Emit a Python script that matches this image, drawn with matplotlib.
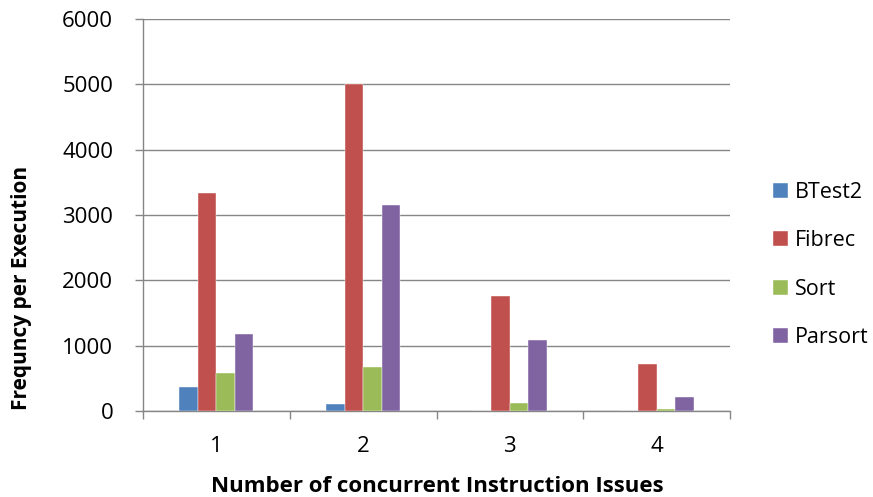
import numpy as np
import matplotlib.pyplot as plt

# data
categories = ['1', '2', '3', '4']
series = ['BTest2', 'Fibrec', 'Sort', 'Parsort']
btest2 = [375, 105, 0, 0]
fibrec = [3330, 5000, 1760, 720]
sort_ = [580, 670, 120, 30]
parsort = [1180, 3160, 1090, 220]
colors = ['#4F81BD', '#C0504D', '#9BBB59', '#8064A2']

plt.rcParams['font.family'] = ['Open Sans', 'DejaVu Sans']

fig = plt.figure(figsize=(8.73, 4.97), dpi=100)
ax = fig.add_axes([143/873, 1 - 411/497, 587/873, 392/497])

x = np.arange(1, len(categories) + 1)
w = 0.126
vals = [btest2, fibrec, sort_, parsort]
for i in range(4):
    ax.bar(x + (i - 1.5) * w, vals[i], w, color=colors[i], label=series[i],
           edgecolor='white', linewidth=0.3, zorder=3)

ax.set_xlim(0.5, 4.5)
ax.set_ylim(0, 6000)
ax.set_yticks(np.arange(0, 6001, 1000))
ax.yaxis.grid(True, color='#868686', linewidth=1.0, zorder=0)

ax.set_xticks(x)
ax.set_xticklabels(categories)
ax.set_xticks(np.arange(0.5, 4.6, 1), minor=True)
ax.tick_params(axis='x', which='major', length=0, pad=18, labelsize=16)
ax.tick_params(axis='x', which='minor', length=5.5, color='#868686', width=1.0)
ax.tick_params(axis='y', length=5.5, color='#868686', width=1.0, labelsize=16, pad=16)

for s in ['top', 'right']:
    ax.spines[s].set_visible(False)
for s in ['left', 'bottom']:
    ax.spines[s].set_color('#868686')
    ax.spines[s].set_linewidth(1.0)

fig.text(437/873, 1 - 486/497, 'Number of concurrent Instruction Issues',
         fontsize=16, fontweight='bold', ha='center', va='center')
fig.text(22/873, 1 - 288/497, 'Frequncy per Execution', fontsize=15,
         fontweight='bold', ha='center', va='center', rotation=90)

leg = ax.legend(loc='upper left', bbox_to_anchor=(773/873, 1 - 182/497),
                bbox_transform=fig.transFigure, frameon=False, fontsize=15.5,
                handlelength=0.7, handleheight=0.7, handletextpad=0.33,
                labelspacing=1.27, borderpad=0, borderaxespad=0)

fig.savefig('out.png', dpi=100)
